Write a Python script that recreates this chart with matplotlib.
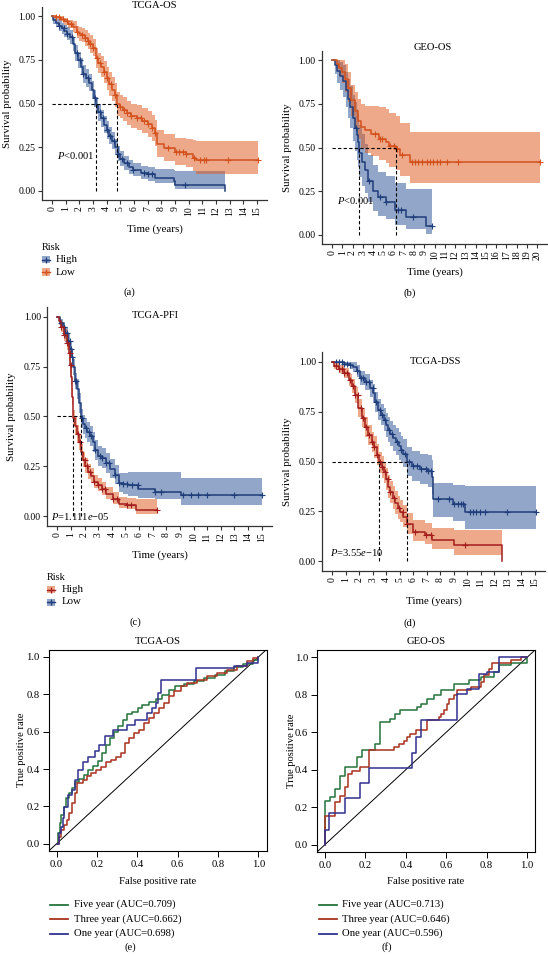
import numpy as np
import matplotlib
matplotlib.use('Agg')
import matplotlib.pyplot as plt
from matplotlib.patches import Rectangle
from matplotlib.lines import Line2D

plt.rcParams['font.family'] = 'Liberation Serif'
plt.rcParams['mathtext.fontset'] = 'custom'
plt.rcParams['mathtext.rm'] = 'Liberation Serif'
plt.rcParams['mathtext.it'] = 'Liberation Serif:italic'

# ---------------- dados ----------------
# (a) TCGA-OS
a_hi_t  = [0, 0.1, 0.3, 0.5, 0.7, 0.9, 1.1, 1.3, 1.5, 1.7, 1.9, 2.1, 2.3, 2.5, 2.7, 2.9, 3.05, 3.2, 3.4, 3.6, 3.8, 4.0, 4.2, 4.4, 4.6, 4.8, 5.0, 5.3, 5.6, 5.95, 6.5, 7.0, 7.5, 8.9, 9.0, 12.65]
a_hi_s  = [1.0, 0.975, 0.96, 0.945, 0.93, 0.915, 0.9, 0.88, 0.84, 0.79, 0.75, 0.71, 0.67, 0.645, 0.62, 0.58, 0.53, 0.49, 0.45, 0.415, 0.38, 0.35, 0.315, 0.285, 0.25, 0.21, 0.185, 0.16, 0.14, 0.12, 0.105, 0.095, 0.075, 0.06, 0.035, 0.0]
a_hi_lo = [1.0, 0.955, 0.935, 0.915, 0.9, 0.88, 0.865, 0.84, 0.8, 0.745, 0.705, 0.665, 0.62, 0.595, 0.57, 0.53, 0.48, 0.44, 0.4, 0.365, 0.33, 0.3, 0.27, 0.24, 0.205, 0.17, 0.145, 0.12, 0.1, 0.085, 0.07, 0.06, 0.045, 0.03, 0.01, 0.01]
a_hi_up = [1.0, 0.995, 0.985, 0.975, 0.96, 0.95, 0.935, 0.92, 0.88, 0.835, 0.795, 0.76, 0.72, 0.695, 0.67, 0.63, 0.58, 0.54, 0.5, 0.465, 0.43, 0.4, 0.365, 0.335, 0.3, 0.255, 0.23, 0.2, 0.18, 0.16, 0.145, 0.135, 0.125, 0.12, 0.115, 0.115]
a_hi_cens = [0.5, 0.85, 1.1, 1.45, 1.8, 2.05, 2.3, 2.6, 3.15, 3.5, 3.75, 4.0, 4.25, 4.5, 4.8, 5.1, 5.5, 5.95, 6.7, 7.05, 7.3, 9.7]

a_lo_t  = [0, 0.3, 0.6, 0.9, 1.2, 1.5, 1.8, 2.0, 2.2, 2.4, 2.6, 2.8, 3.0, 3.2, 3.4, 3.6, 3.8, 4.0, 4.2, 4.4, 4.6, 4.79, 5.0, 5.2, 5.5, 5.8, 6.2, 6.6, 7.0, 7.3, 7.5, 7.7, 8.2, 9.0, 9.8, 10.3, 10.5, 15.1]
a_lo_s  = [1.0, 0.995, 0.985, 0.97, 0.955, 0.94, 0.91, 0.9, 0.89, 0.875, 0.86, 0.84, 0.82, 0.76, 0.73, 0.71, 0.68, 0.645, 0.61, 0.58, 0.55, 0.495, 0.48, 0.465, 0.445, 0.43, 0.42, 0.40, 0.385, 0.36, 0.33, 0.27, 0.245, 0.225, 0.21, 0.19, 0.175, 0.175]
a_lo_lo = [1.0, 0.985, 0.97, 0.95, 0.93, 0.91, 0.875, 0.86, 0.85, 0.83, 0.81, 0.79, 0.77, 0.705, 0.675, 0.65, 0.62, 0.58, 0.545, 0.515, 0.48, 0.43, 0.42, 0.4, 0.375, 0.36, 0.35, 0.33, 0.31, 0.285, 0.255, 0.195, 0.17, 0.15, 0.135, 0.115, 0.1, 0.1]
a_lo_up = [1.0, 1.0, 1.0, 0.99, 0.98, 0.97, 0.945, 0.94, 0.93, 0.92, 0.905, 0.89, 0.87, 0.815, 0.79, 0.77, 0.745, 0.71, 0.68, 0.65, 0.62, 0.565, 0.55, 0.535, 0.515, 0.5, 0.49, 0.475, 0.46, 0.435, 0.405, 0.35, 0.325, 0.305, 0.295, 0.29, 0.285, 0.285]
a_lo_cens = [0.3, 0.5, 0.8, 1.1, 1.4, 1.8, 2.2, 2.4, 2.6, 2.8, 3.0, 3.3, 3.5, 3.8, 4.0, 4.3, 4.6, 5.0, 5.3, 5.5, 5.8, 6.2, 6.5, 6.7, 7.0, 7.3, 7.5, 8.5, 9.1, 9.3, 9.6, 9.8, 10.4, 10.8, 11.1, 11.3, 12.9, 15.1]

# (b) GEO-OS
b_hi_t  = [0, 0.3, 0.5, 0.8, 1.1, 1.4, 1.6, 1.8, 2.0, 2.2, 2.4, 2.55, 2.67, 2.9, 3.2, 3.5, 4.0, 4.5, 5.3, 6.1, 7.2, 9.2, 9.72]
b_hi_s  = [1.0, 0.97, 0.94, 0.91, 0.88, 0.83, 0.78, 0.73, 0.67, 0.61, 0.57, 0.53, 0.47, 0.42, 0.37, 0.31, 0.25, 0.215, 0.19, 0.145, 0.105, 0.05, 0.05]
b_hi_lo = [1.0, 0.92, 0.87, 0.83, 0.79, 0.73, 0.67, 0.61, 0.54, 0.48, 0.43, 0.39, 0.33, 0.28, 0.24, 0.19, 0.14, 0.11, 0.09, 0.06, 0.035, 0.005, 0.005]
b_hi_up = [1.0, 1.0, 1.0, 0.99, 0.97, 0.93, 0.89, 0.85, 0.8, 0.76, 0.72, 0.69, 0.63, 0.58, 0.52, 0.46, 0.4, 0.36, 0.34, 0.3, 0.265, 0.265, 0.265]
b_hi_cens = [2.3, 3.6, 4.7, 5.3, 6.45, 6.75, 7.9, 9.72]

b_lo_t  = [0, 0.5, 0.7, 1.0, 1.3, 1.6, 1.9, 2.2, 2.5, 2.8, 3.2, 3.8, 4.6, 5.3, 5.6, 6.2, 6.6, 7.6, 20.3]
b_lo_s  = [1.0, 0.98, 0.955, 0.93, 0.89, 0.84, 0.77, 0.71, 0.65, 0.62, 0.6, 0.575, 0.55, 0.53, 0.51, 0.49, 0.455, 0.42, 0.42]
b_lo_lo = [1.0, 0.95, 0.91, 0.87, 0.82, 0.76, 0.68, 0.61, 0.55, 0.5, 0.47, 0.45, 0.43, 0.41, 0.39, 0.37, 0.34, 0.30, 0.30]
b_lo_up = [1.0, 1.0, 1.0, 1.0, 0.98, 0.93, 0.86, 0.82, 0.78, 0.75, 0.74, 0.735, 0.73, 0.72, 0.7, 0.68, 0.64, 0.59, 0.59]
b_lo_cens = [4.2, 4.7, 4.85, 5.65, 6.0, 6.3, 6.8, 7.8, 8.1, 8.4, 8.75, 9.25, 9.55, 9.9, 10.2, 10.5, 11.2, 12.3, 20.3]

# (c) TCGA-PFI
c_hi_t  = [0, 0.1, 0.3, 0.5, 0.7, 0.85, 0.95, 1.03, 1.1, 1.17, 1.3, 1.45, 1.6, 1.75, 1.9, 2.05, 2.25, 2.45, 2.7, 2.95, 3.25, 3.6, 4.1, 4.5, 5.1, 5.8, 7.35]
c_hi_s  = [1.0, 0.98, 0.95, 0.91, 0.87, 0.82, 0.76, 0.7, 0.6, 0.49, 0.45, 0.41, 0.37, 0.32, 0.28, 0.25, 0.22, 0.2, 0.17, 0.155, 0.135, 0.11, 0.085, 0.062, 0.057, 0.03, 0.03]
c_hi_lo = [1.0, 0.96, 0.925, 0.88, 0.835, 0.78, 0.72, 0.66, 0.56, 0.45, 0.41, 0.37, 0.33, 0.285, 0.245, 0.215, 0.185, 0.165, 0.14, 0.125, 0.105, 0.085, 0.06, 0.04, 0.035, 0.01, 0.01]
c_hi_up = [1.0, 0.995, 0.975, 0.94, 0.905, 0.86, 0.8, 0.745, 0.645, 0.535, 0.495, 0.455, 0.41, 0.36, 0.32, 0.29, 0.26, 0.24, 0.205, 0.19, 0.17, 0.145, 0.12, 0.095, 0.09, 0.085, 0.085]
c_hi_cens = [0.3, 0.5, 0.7, 0.9, 1.0, 1.5, 1.7, 2.0, 2.2, 2.4, 2.7, 3.0, 3.3, 3.5, 4.1, 4.4, 5.1, 5.4, 7.35]

c_lo_t  = [0, 0.2, 0.4, 0.6, 0.8, 0.95, 1.05, 1.15, 1.3, 1.45, 1.58, 1.71, 1.9, 2.05, 2.2, 2.4, 2.6, 2.8, 3.0, 3.3, 3.6, 3.9, 4.2, 4.5, 4.8, 5.2, 5.95, 7.2, 9.1, 15.05]
c_lo_s  = [1.0, 0.97, 0.95, 0.92, 0.88, 0.84, 0.8, 0.75, 0.68, 0.64, 0.57, 0.49, 0.46, 0.44, 0.42, 0.40, 0.37, 0.33, 0.30, 0.29, 0.265, 0.235, 0.205, 0.165, 0.16, 0.155, 0.138, 0.12, 0.105, 0.105]
c_lo_lo = [1.0, 0.95, 0.925, 0.89, 0.85, 0.80, 0.76, 0.71, 0.64, 0.59, 0.52, 0.44, 0.41, 0.39, 0.37, 0.35, 0.32, 0.28, 0.25, 0.24, 0.215, 0.19, 0.16, 0.12, 0.11, 0.1, 0.09, 0.085, 0.055, 0.055]
c_lo_up = [1.0, 0.99, 0.975, 0.95, 0.915, 0.88, 0.84, 0.79, 0.72, 0.69, 0.62, 0.54, 0.51, 0.49, 0.47, 0.45, 0.42, 0.38, 0.35, 0.34, 0.315, 0.285, 0.255, 0.215, 0.215, 0.22, 0.22, 0.22, 0.19, 0.19]
c_lo_cens = [0.3, 0.5, 0.6, 0.7, 0.8, 0.9, 1.0, 1.05, 1.3, 1.4, 1.8, 2.1, 2.3, 2.5, 2.8, 3.1, 3.3, 3.6, 3.8, 4.2, 4.5, 4.8, 5.1, 5.5, 5.9, 7.2, 7.6, 9.2, 9.8, 10.3, 11.0, 13.0, 15.05]

# (d) TCGA-DSS
d_hi_t  = [0, 0.1, 0.5, 0.9, 1.2, 1.43, 1.68, 1.93, 2.17, 2.4, 2.67, 2.9, 3.1, 3.3, 3.48, 3.65, 3.8, 4.0, 4.15, 4.3, 4.5, 4.65, 4.85, 5.0, 5.25, 5.5, 6.0, 6.85, 7.35, 9.0, 12.55]
d_hi_s  = [1.0, 0.98, 0.965, 0.945, 0.91, 0.88, 0.835, 0.77, 0.72, 0.675, 0.635, 0.6, 0.575, 0.535, 0.495, 0.47, 0.445, 0.41, 0.37, 0.345, 0.315, 0.29, 0.265, 0.248, 0.223, 0.185, 0.147, 0.13, 0.105, 0.08, 0.0]
d_hi_lo = [1.0, 0.965, 0.945, 0.92, 0.88, 0.845, 0.795, 0.725, 0.675, 0.625, 0.585, 0.55, 0.52, 0.48, 0.44, 0.415, 0.39, 0.355, 0.315, 0.29, 0.26, 0.235, 0.21, 0.195, 0.17, 0.135, 0.1, 0.085, 0.06, 0.03, 0.03]
d_hi_up = [1.0, 0.995, 0.985, 0.97, 0.94, 0.915, 0.875, 0.815, 0.765, 0.725, 0.685, 0.65, 0.63, 0.59, 0.55, 0.53, 0.5, 0.465, 0.43, 0.4, 0.375, 0.35, 0.325, 0.305, 0.28, 0.24, 0.205, 0.19, 0.165, 0.155, 0.155]
d_hi_cens = [0.3, 0.5, 0.7, 0.9, 1.1, 1.3, 1.5, 1.7, 1.9, 2.1, 2.3, 2.5, 2.7, 2.9, 3.1, 3.3, 3.5, 3.7, 3.9, 4.1, 4.3, 4.6, 4.9, 5.2, 5.5, 6.1, 6.9, 7.3, 9.8]

d_lo_t  = [0, 0.9, 1.3, 1.55, 1.8, 2.05, 2.4, 2.8, 3.04, 3.16, 3.4, 3.6, 3.8, 4.0, 4.15, 4.3, 4.5, 4.7, 4.9, 5.1, 5.26, 5.5, 5.9, 6.5, 7.1, 7.36, 7.48, 8.96, 9.83, 15.1]
d_lo_s  = [1.0, 0.99, 0.985, 0.975, 0.955, 0.92, 0.9, 0.87, 0.845, 0.80, 0.76, 0.735, 0.71, 0.685, 0.66, 0.64, 0.62, 0.6, 0.58, 0.56, 0.54, 0.495, 0.475, 0.46, 0.45, 0.42, 0.313, 0.288, 0.247, 0.247]
d_lo_lo = [1.0, 0.98, 0.965, 0.95, 0.925, 0.885, 0.86, 0.825, 0.8, 0.75, 0.71, 0.685, 0.655, 0.625, 0.6, 0.58, 0.555, 0.535, 0.51, 0.49, 0.47, 0.425, 0.4, 0.385, 0.37, 0.335, 0.22, 0.2, 0.16, 0.16]
d_lo_up = [1.0, 1.0, 1.0, 1.0, 0.985, 0.955, 0.94, 0.91, 0.89, 0.85, 0.815, 0.79, 0.77, 0.745, 0.725, 0.705, 0.685, 0.67, 0.65, 0.63, 0.615, 0.575, 0.555, 0.54, 0.535, 0.51, 0.39, 0.38, 0.375, 0.375]
d_lo_cens = [0.3, 0.5, 0.7, 0.9, 1.1, 1.3, 1.8, 2.1, 2.3, 2.5, 2.7, 3.0, 3.2, 3.5, 3.7, 3.9, 4.2, 4.4, 4.8, 5.1, 5.4, 5.7, 6.0, 6.3, 6.6, 6.9, 7.1, 7.3, 7.8, 8.6, 9.0, 9.3, 9.5, 9.7, 10.2, 10.4, 10.6, 10.9, 11.3, 12.9, 15.1]

# (e) ROC TCGA-OS
e_five_fpr = [0, 0.007, 0.015, 0.023, 0.036, 0.048, 0.061, 0.076, 0.089, 0.113, 0.135, 0.158, 0.179, 0.204, 0.225, 0.245, 0.266, 0.286, 0.305, 0.327, 0.348, 0.376, 0.401, 0.425, 0.458, 0.491, 0.524, 0.557, 0.589, 0.631, 0.68, 0.729, 0.787, 0.836, 0.877, 0.926, 0.975, 1.0]
e_five_tpr = [0, 0.055, 0.109, 0.154, 0.199, 0.243, 0.27, 0.297, 0.333, 0.345, 0.369, 0.395, 0.417, 0.445, 0.485, 0.53, 0.565, 0.596, 0.631, 0.664, 0.696, 0.708, 0.726, 0.741, 0.757, 0.775, 0.798, 0.825, 0.843, 0.857, 0.869, 0.887, 0.905, 0.923, 0.945, 0.964, 0.982, 1.0]
e_three_fpr = [0, 0.01, 0.023, 0.036, 0.051, 0.064, 0.076, 0.089, 0.102, 0.13, 0.151, 0.171, 0.195, 0.22, 0.245, 0.269, 0.294, 0.319, 0.338, 0.36, 0.384, 0.409, 0.433, 0.458, 0.483, 0.507, 0.532, 0.557, 0.581, 0.614, 0.647, 0.696, 0.745, 0.795, 0.844, 0.893, 0.943, 0.975, 1.0]
e_three_tpr = [0, 0.038, 0.073, 0.1, 0.127, 0.163, 0.216, 0.27, 0.324, 0.342, 0.36, 0.377, 0.395, 0.413, 0.44, 0.449, 0.467, 0.485, 0.538, 0.565, 0.592, 0.61, 0.646, 0.673, 0.70, 0.726, 0.753, 0.789, 0.816, 0.843, 0.86, 0.878, 0.896, 0.914, 0.932, 0.953, 0.977, 0.995, 1.0]
e_one_fpr = [0, 0.01, 0.023, 0.031, 0.039, 0.056, 0.076, 0.089, 0.108, 0.13, 0.154, 0.19, 0.212, 0.24, 0.278, 0.348, 0.39, 0.45, 0.475, 0.491, 0.5, 0.519, 0.69, 0.878, 0.944, 0.998, 1.0]
e_one_tpr = [0, 0.055, 0.091, 0.136, 0.199, 0.261, 0.288, 0.342, 0.395, 0.44, 0.467, 0.494, 0.53, 0.575, 0.61, 0.636, 0.664, 0.70, 0.726, 0.753, 0.807, 0.878, 0.94, 0.953, 0.968, 1.0, 1.0]
e_auc = ['0.709', '0.662', '0.698']

# (f) ROC GEO-OS
f_five_fpr = [0, 0, 0.025, 0.05, 0.075, 0.1, 0.158, 0.182, 0.249, 0.274, 0.323, 0.348, 0.373, 0.456, 0.473, 0.506, 0.539, 0.572, 0.638, 0.713, 0.771, 0.837, 0.862, 0.92, 1.0]
f_five_tpr = [0, 0.234, 0.256, 0.297, 0.368, 0.413, 0.467, 0.503, 0.538, 0.655, 0.673, 0.70, 0.717, 0.735, 0.753, 0.78, 0.798, 0.825, 0.86, 0.878, 0.896, 0.923, 0.959, 0.971, 1.0]
f_three_fpr = [0, 0, 0.05, 0.075, 0.1, 0.116, 0.133, 0.174, 0.216, 0.34, 0.365, 0.39, 0.406, 0.423, 0.448, 0.506, 0.564, 0.572, 0.589, 0.605, 0.614, 0.638, 0.655, 0.721, 0.771, 0.788, 0.813, 0.829, 0.92, 0.97, 1.0]
f_three_tpr = [0, 0.154, 0.225, 0.261, 0.306, 0.377, 0.395, 0.413, 0.503, 0.521, 0.538, 0.556, 0.574, 0.592, 0.61, 0.664, 0.682, 0.70, 0.717, 0.753, 0.78, 0.798, 0.825, 0.843, 0.869, 0.905, 0.941, 0.968, 0.986, 1.0, 1.0]
f_one_fpr = [0, 0, 0.017, 0.1, 0.174, 0.216, 0.431, 0.448, 0.473, 0.655, 0.705, 0.763, 0.804, 0.862, 1.0]
f_one_tpr = [0, 0.08, 0.166, 0.25, 0.33, 0.41, 0.49, 0.574, 0.664, 0.807, 0.834, 0.914, 0.925, 1.0, 1.0]
f_auc = ['0.713', '0.646', '0.596']

# cores
azul, azul_f = '#1f3d7a', '#2c5597'
laranja, laranja_f = '#d4501c', '#dd5a20'
vermelho = '#a31d1d'
verde_roc, verm_roc, azul_roc = '#25733a', '#a8321e', '#303090'

W, H = 548, 956
fig = plt.figure(figsize=(W / 100, H / 100), dpi=100)


def px_ax(l, t, r, b):
    return fig.add_axes([l / W, 1 - b / H, (r - l) / W, (b - t) / H])


def px_text(x, y, s, **kw):
    kw.setdefault('ha', 'center')
    kw.setdefault('va', 'center')
    fig.text(x / W, 1 - y / H, s, **kw)


def km_panel(rect, xmax, curvas, ptxt, pxy):
    ax = px_ax(*rect)
    for t, s, lo, up, cens, lc, fc in curvas:
        ax.fill_between(t, lo, up, step='post', color=fc, alpha=0.52, lw=0)
    medianas = []
    for t, s, lo, up, cens, lc, fc in curvas:
        t = np.array(t); s = np.array(s)
        ax.step(t, s, where='post', color=lc, lw=1.1)
        idx = np.searchsorted(t, cens, side='right') - 1
        ax.plot(cens, s[idx], '+', color=lc, ms=4.5, mew=0.8)
        medianas.append(t[np.argmax(s <= 0.5)])
    ax.plot([0, max(medianas)], [0.5, 0.5], color='black', ls=(0, (3, 2)), lw=0.8)
    for m in medianas:
        ax.plot([m, m], [0, 0.5], color='black', ls=(0, (3, 2)), lw=0.8)
    ax.text(pxy[0], pxy[1], ptxt, fontsize=7.6, ha='left', va='center')
    ax.set_xlim(-0.05 * xmax, 1.05 * xmax)
    ax.set_ylim(-0.05, 1.05)
    ax.set_xticks(range(0, xmax + 1))
    ax.set_xticklabels([str(i) for i in range(0, xmax + 1)], rotation=90)
    ax.set_yticks([0, 0.25, 0.5, 0.75, 1.0])
    ax.set_yticklabels(['0.00', '0.25', '0.50', '0.75', '1.00'])
    for sp in ['top', 'right']:
        ax.spines[sp].set_visible(False)
    for sp in ['left', 'bottom']:
        ax.spines[sp].set_color('#333333')
        ax.spines[sp].set_linewidth(0.9)
    ax.tick_params(length=3, width=0.8, color='#333333', pad=1.5, labelsize=7)
    return ax


def risk_legend(x, y, itens):
    px_text(x, y, 'Risk', ha='left', fontsize=7.4)
    for k, (lab, lc, fc) in enumerate(itens):
        yy = y + 12.5 * (k + 1)
        fig.add_artist(Rectangle((x / W, 1 - (yy + 3.5) / H), 8 / W, 7 / H,
                                 transform=fig.transFigure, facecolor=fc, alpha=0.52, lw=0))
        fig.add_artist(Line2D([x / W, (x + 8) / W], [1 - yy / H] * 2, color=lc, lw=1))
        fig.add_artist(Line2D([(x + 4) / W], [1 - yy / H], marker='+', ms=4.5, mew=0.9, color=lc))
        px_text(x + 14.5, yy, lab, ha='left', fontsize=7.8)


def roc_panel(rect, curvas, aucs, leg_x, leg_y):
    ax = px_ax(*rect)
    ax.axline((0, 0), (1, 1), color='black', lw=0.7)
    for fpr, tpr, c in curvas:
        ax.plot(fpr, tpr, drawstyle='steps-post', color=c, lw=1.1)
    ax.set_xlim(-0.04, 1.04)
    ax.set_ylim(-0.04, 1.04)
    tk = [0, 0.2, 0.4, 0.6, 0.8, 1.0]
    ax.set_xticks(tk)
    ax.set_yticks(tk)
    ax.set_xticklabels(['%.1f' % v for v in tk])
    ax.set_yticklabels(['%.1f' % v for v in tk])
    for sp in ax.spines.values():
        sp.set_linewidth(0.8)
    ax.tick_params(length=4.5, width=0.7, pad=2, labelsize=7.7)
    nomes = ['Five year', 'Three year', 'One year']
    for k, (nome, auc, cur) in enumerate(zip(nomes, aucs, curvas)):
        yy = leg_y + 14.5 * k
        fig.add_artist(Line2D([leg_x / W, (leg_x + 17.5) / W], [1 - yy / H] * 2, color=cur[2], lw=1.3))
        px_text(leg_x + 23.5, yy, '%s (AUC=%s)' % (nome, auc), ha='left', fontsize=7.7)
    return ax


# (a)
km_panel((41.75, 7.25, 267.25, 199.75), 15,
         [(a_hi_t, a_hi_s, a_hi_lo, a_hi_up, a_hi_cens, azul, azul_f),
          (a_lo_t, a_lo_s, a_lo_lo, a_lo_up, a_lo_cens, laranja, laranja_f)],
         r'$P$<0.001', (0.34, 0.205))
px_text(154.5, 5, 'TCGA-OS', fontsize=7.6)
px_text(8, 103.5, 'Survival probability', rotation=90, fontsize=7.8)
px_text(154.5, 229, 'Time (years)', fontsize=7.8)
risk_legend(41.5, 247, [('High', azul, azul_f), ('Low', laranja, laranja_f)])
px_text(129, 292, '(a)', fontsize=7.7)

# (b)
km_panel((321.75, 51.25, 547.25, 243.75), 20,
         [(b_hi_t, b_hi_s, b_hi_lo, b_hi_up, b_hi_cens, azul, azul_f),
          (b_lo_t, b_lo_s, b_lo_lo, b_lo_up, b_lo_cens, laranja, laranja_f)],
         r'$P$<0.001', (0.46, 0.2))
px_text(433, 48, 'GEO-OS', fontsize=7.6)
px_text(287, 147.5, 'Survival probability', rotation=90, fontsize=7.8)
px_text(434.5, 272, 'Time (years)', fontsize=7.8)
px_text(410, 293, '(b)', fontsize=7.7)

# (c)
km_panel((47.1, 307, 271.9, 526), 15,
         [(c_lo_t, c_lo_s, c_lo_lo, c_lo_up, c_lo_cens, azul, azul_f),
          (c_hi_t, c_hi_s, c_hi_lo, c_hi_up, c_hi_cens, vermelho, laranja_f)],
         r'$P$=1.111$e$−05', (-0.48, 0.0))
px_text(155, 316, 'TCGA-PFI', fontsize=7.6)
px_text(12, 416.5, 'Survival probability', rotation=90, fontsize=7.8)
px_text(159.5, 555, 'Time (years)', fontsize=7.8)
risk_legend(47, 577, [('High', vermelho, laranja_f), ('Low', azul, azul_f)])
px_text(135, 622, '(c)', fontsize=7.7)

# (d)
km_panel((322.2, 352, 545.1, 571), 15,
         [(d_lo_t, d_lo_s, d_lo_lo, d_lo_up, d_lo_cens, azul, azul_f),
          (d_hi_t, d_hi_s, d_hi_lo, d_hi_up, d_hi_cens, vermelho, laranja_f)],
         r'$P$=3.55$e$−10', (-0.2, 0.045))
px_text(435, 362, 'TCGA-DSS', fontsize=7.6)
px_text(287, 461.5, 'Survival probability', rotation=90, fontsize=7.8)
px_text(433.6, 601, 'Time (years)', fontsize=7.8)
px_text(410, 623, '(d)', fontsize=7.7)

# (e)
roc_panel((48.5, 649.5, 266.5, 851.2),
          [(e_five_fpr, e_five_tpr, verde_roc), (e_three_fpr, e_three_tpr, verm_roc), (e_one_fpr, e_one_tpr, azul_roc)],
          e_auc, 50, 904.5)
px_text(157.5, 642, 'TCGA-OS', fontsize=7.7)
px_text(22, 750, 'True positive rate', rotation=90, fontsize=7.7)
px_text(157.5, 882, 'False positive rate', fontsize=7.7)
px_text(130, 947, '(e)', fontsize=7.7)

# (f)
roc_panel((317, 650, 535, 852),
          [(f_five_fpr, f_five_tpr, verde_roc), (f_three_fpr, f_three_tpr, verm_roc), (f_one_fpr, f_one_tpr, azul_roc)],
          f_auc, 319, 904.5)
px_text(426, 642, 'GEO-OS', fontsize=7.7)
px_text(292, 751, 'True positive rate', rotation=90, fontsize=7.7)
px_text(426, 882, 'False positive rate', fontsize=7.7)
px_text(387, 947, '(f)', fontsize=7.7)

fig.savefig('out.png', dpi=100)
